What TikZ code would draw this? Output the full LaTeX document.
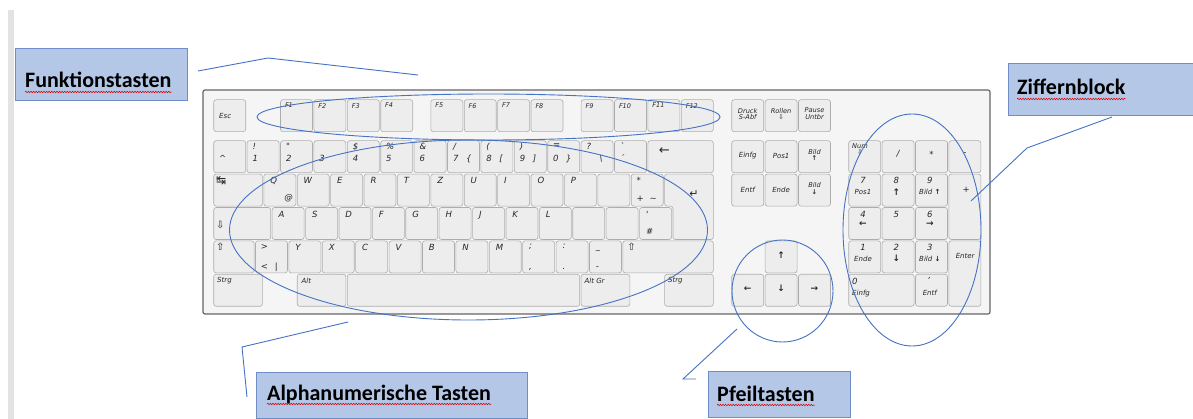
\documentclass[tikz,border=0pt]{standalone}
\usepackage{fontspec}
\usetikzlibrary{calc,decorations.pathmorphing,shapes.geometric}
\newfontfamily\kfont{DejaVu Sans}
\newfontfamily\lfont{Carlito}
\definecolor{ob}{HTML}{4472C4}
\definecolor{boxfill}{HTML}{B4C7E7}
\definecolor{boxline}{HTML}{6F8DC6}
\newcommand\uu{33.4}
\newcounter{kn}
\newcommand\keyt[3][]{\stepcounter{kn}\node[kt,#1] (kt\arabic{kn}) at (#2) {#3};}
\newcommand\K[5]{\begin{scope}[shift={(#1,#2)}]\path[keyst] (0.7,0.7) rectangle (#3-0.7,#4-0.7);#5\end{scope}}
\newcommand\NK[4]{\K{#1}{140}{\uu}{\uu}{\keyt{6,3}{#2}\keyt[anchor=base west]{6,22}{#3}\keyt[anchor=base west]{19,22}{#4}}}
\newcommand\NP[4]{\K{#1}{#2}{\uu}{\uu}{\keyt[anchor=north]{15,4}{#3}\keyt[ks,anchor=north]{15,16}{#4}}}
\newcommand\NA[4]{\K{#1}{#2}{\uu}{\uu}{\keyt[anchor=north]{15,4}{#3}\keyt[arr,anchor=north]{15,15}{#4}}}
\tikzset{
  keyst/.style={draw=black!32, fill=black!7, rounded corners=2.5pt, line width=0.6pt},
  kt/.style={font=\kfont\itshape\fontsize{8.5}{9}\selectfont, text=black!85, inner sep=0pt, anchor=north west},
  ks/.style={font=\kfont\itshape\fontsize{7}{7.5}\selectfont},
  ks2/.style={font=\kfont\itshape\fontsize{6.6}{6.8}\selectfont, align=center},
  kf/.style={font=\kfont\itshape\fontsize{6.5}{7}\selectfont},
  sym/.style={font=\kfont\fontsize{10}{10}\selectfont},
  arr/.style={font=\kfont\bfseries\fontsize{9}{9}\selectfont},
  ell/.style={ellipse, draw=ob, line width=0.9pt, inner sep=0pt},
  conn/.style={draw=ob, line width=0.9pt},
  lbox/.style={draw=boxline, fill=boxfill, line width=0.8pt, inner sep=0pt, anchor=north west},
  ltxt/.style={font=\lfont\bfseries\fontsize{22}{26}\selectfont, inner sep=0pt, anchor=base west},
  squig/.style={draw=red!85!black, line width=0.5pt, decorate, decoration={snake, amplitude=0.8pt, segment length=2.6pt}}
}
\begin{document}
\begin{tikzpicture}[x=1pt,y=-1pt]
\useasboundingbox (0,0) rectangle (1193,419);
\fill[white] (0,0) rectangle (1193,419);
\fill[black!11] (8,10) rectangle (14,419);
% keyboard body
\draw[fill=black!4, draw=black!60, line width=1.2pt, rounded corners=2pt] (203,90) rectangle (990,314);
% F row
\K{213}{99}{\uu}{\uu}{\keyt[ks,anchor=west]{6,17}{Esc}}
\foreach \l [count=\i from 0] in {F1,F2,F3,F4}{\K{279.8+\i*\uu}{99}{\uu}{\uu}{\keyt[kf]{5,4}{\l}}}
\foreach \l [count=\i from 0] in {F5,F6,F7,F8}{\K{430.1+\i*\uu}{99}{\uu}{\uu}{\keyt[kf]{5,4}{\l}}}
\foreach \l [count=\i from 0] in {F9,F10,F11,F12}{\K{580.4+\i*\uu}{99}{\uu}{\uu}{\keyt[kf]{5,4}{\l}}}
% number row
\NK{213}{}{\textasciicircum}{}
\NK{246.4}{!}{1}{}
\NK{279.8}{"}{2}{}
\NK{313.2}{}{3}{}
\NK{346.6}{\$}{4}{}
\NK{380}{\%}{5}{}
\NK{413.4}{\&}{6}{}
\NK{446.8}{/}{7}{\{}
\NK{480.2}{(}{8}{[}
\NK{513.6}{)}{9}{]}
\NK{547}{=}{0}{\}}
\NK{580.4}{?}{}{\textbackslash}
\NK{613.8}{`}{´}{}
\K{647.2}{140}{2*\uu}{\uu}{\keyt[font=\kfont\fontsize{13}{13}\selectfont,anchor=center]{17,11}{←}}
% row 2
\K{213}{173.4}{1.5*\uu}{\uu}{\keyt[font=\kfont\fontsize{12}{12}\selectfont]{3,3}{↹}}
\K{263.1}{173.4}{\uu}{\uu}{\keyt{7,4}{Q}\keyt[anchor=base west]{21,27}{@}}
\foreach \l [count=\i from 1] in {W,E,R,T,Z,U,I,O,P}{\K{263.1+\i*\uu}{173.4}{\uu}{\uu}{\keyt{7,4}{\l}}}
\K{597.1}{173.4}{\uu}{\uu}{}
\K{630.5}{173.4}{\uu}{\uu}{\keyt{6,4}{*}\keyt[anchor=base west]{6,28}{+}\keyt[anchor=base west]{19,28}{\textasciitilde}}
\begin{scope}[shift={(663.9,173.4)}]
\path[keyst] (0.7,0.7) -- (49.4,0.7) -- (49.4,66.1) -- (9.05,66.1) -- (9.05,32.7) -- (0.7,32.7) -- cycle;
\keyt[font=\kfont\fontsize{11}{11}\selectfont,anchor=center]{30,21}{↵}
\end{scope}
% row 3
\K{213}{206.8}{1.75*\uu}{\uu}{\keyt[sym,anchor=west]{3,18}{⇩}}
\foreach \l [count=\i from 0] in {A,S,D,F,G,H,J,K,L}{\K{271.45+\i*\uu}{206.8}{\uu}{\uu}{\keyt{7,4}{\l}}}
\K{572.05}{206.8}{\uu}{\uu}{}
\K{605.45}{206.8}{\uu}{\uu}{}
\K{638.85}{206.8}{\uu}{\uu}{\keyt{7,4}{'}\keyt[anchor=base west]{7,28}{\#}}
% row 4
\K{213}{240.2}{1.25*\uu}{\uu}{\keyt[sym]{3,3}{⇧}}
\K{254.75}{240.2}{\uu}{\uu}{\keyt{6,4}{>}\keyt[anchor=base west]{6,29}{<}\keyt[anchor=base west]{20,29}{|}}
\foreach \l [count=\i from 0] in {Y,X,C,V,B,N,M}{\K{288.15+\i*\uu}{240.2}{\uu}{\uu}{\keyt{7,4}{\l}}}
\K{521.95}{240.2}{\uu}{\uu}{\keyt{7,4}{;}\keyt[anchor=base west]{7,29}{,}}
\K{555.35}{240.2}{\uu}{\uu}{\keyt{7,4}{:}\keyt[anchor=base west]{7,29}{.}}
\K{588.75}{240.2}{\uu}{\uu}{\keyt[anchor=base west]{7,9}{\_}\keyt[anchor=base west]{7,29}{-}}
\K{622.15}{240.2}{2.75*\uu}{\uu}{\keyt[sym]{5,3}{⇧}}
% row 5
\K{213}{273.6}{1.5*\uu}{\uu}{\keyt[ks]{4,4}{Strg}}
\K{296.5}{273.6}{1.5*\uu}{\uu}{\keyt[ks]{5,4}{Alt}}
\K{346.6}{273.6}{7*\uu}{\uu}{}
\K{580.4}{273.6}{1.5*\uu}{\uu}{\keyt[ks]{4,4}{Alt Gr}}
\K{663.9}{273.6}{1.5*\uu}{\uu}{\keyt[ks]{4,4}{Strg}}
% navigation block
\K{731}{99}{\uu}{\uu}{\keyt[ks2,anchor=center]{16.7,15}{Druck\\S-Abf}}
\K{764.4}{99}{\uu}{\uu}{\keyt[ks2,anchor=center]{16.7,15}{Rollen\\⇩}}
\K{797.8}{99}{\uu}{\uu}{\keyt[ks2,anchor=center]{16.7,15}{Pause\\Untbr}}
\K{731}{140}{\uu}{\uu}{\keyt[ks,anchor=center]{16.7,16}{Einfg}}
\K{764.4}{140}{\uu}{\uu}{\keyt[ks,anchor=center]{16.7,16}{Pos1}}
\K{797.8}{140}{\uu}{\uu}{\keyt[ks2,anchor=center]{16.7,15}{Bild\\{\bfseries ↑}}}
\K{731}{173.4}{\uu}{\uu}{\keyt[ks,anchor=center]{16.7,16}{Entf}}
\K{764.4}{173.4}{\uu}{\uu}{\keyt[ks,anchor=center]{16.7,16}{Ende}}
\K{797.8}{173.4}{\uu}{\uu}{\keyt[ks2,anchor=center]{16.7,15}{Bild\\{\bfseries ↓}}}
% arrow keys
\K{764.4}{240.2}{\uu}{\uu}{\keyt[arr,anchor=center]{16.7,15}{↑}}
\K{731}{273.6}{\uu}{\uu}{\keyt[arr,anchor=center]{16.7,15}{←}}
\K{764.4}{273.6}{\uu}{\uu}{\keyt[arr,anchor=center]{16.7,15}{↓}}
\K{797.8}{273.6}{\uu}{\uu}{\keyt[arr,anchor=center]{16.7,15}{→}}
% numpad
\K{848}{140}{\uu}{\uu}{\keyt[ks2]{4,3}{Num\\⇩}}
\K{881.4}{140}{\uu}{\uu}{\keyt[anchor=center]{16.7,14}{/}}
\K{914.8}{140}{\uu}{\uu}{\keyt[anchor=center]{16.7,14}{*}}
\K{948.2}{140}{\uu}{\uu}{\keyt[anchor=center]{16.7,14}{-}}
\NP{848}{173.4}{7}{Pos1}
\NA{881.4}{173.4}{8}{↑}
\NP{914.8}{173.4}{9}{Bild {\bfseries ↑}}
\K{948.2}{173.4}{\uu}{2*\uu}{\keyt[anchor=center]{18,16}{+}}
\NA{848}{206.8}{4}{←}
\NP{881.4}{206.8}{5}{}
\NA{914.8}{206.8}{6}{→}
\NP{848}{240.2}{1}{Ende}
\NA{881.4}{240.2}{2}{↓}
\NP{914.8}{240.2}{3}{Bild {\bfseries ↓}}
\K{948.2}{240.2}{\uu}{2*\uu}{\keyt[ks,anchor=center]{17,16}{Enter}}
\K{848}{273.6}{2*\uu}{\uu}{\keyt{4,4}{0}\keyt[ks]{4,16}{Einfg}}
\NP{914.8}{273.6}{,}{Entf}
% ellipses
\node[ell, minimum width=463pt, minimum height=46pt] (eF) at (488.5,117) {};
\node[ell, minimum width=478pt, minimum height=180pt] (eA) at (468.5,230) {};
\node[ell, minimum width=101pt, minimum height=102pt] (eP) at (782.5,291) {};
\node[ell, minimum width=138pt, minimum height=232pt] (eZ) at (912,230) {};
% label boxes
\node[lbox, minimum width=172pt, minimum height=52pt] (bF) at (15,48) {};
\node[lbox, minimum width=190pt, minimum height=52pt] (bZ) at (1008,63) {};
\node[lbox, minimum width=271pt, minimum height=46pt] (bA) at (256,372) {};
\node[lbox, minimum width=142pt, minimum height=46pt] (bP) at (708,371) {};
\node[ltxt] (tF) at (25,88) {Funktionstasten};
\node[ltxt] (tZ) at (1017,95) {Ziffernblock};
\node[ltxt] (tA) at (267,400) {Alphanumerische Tasten};
\node[ltxt] (tP) at (717,401) {Pfeiltasten};
\foreach \t in {tF,tZ,tA,tP}{\draw[squig] ($(\t.base west)+(0,4)$) -- ($(\t.base east)+(0,4)$);}
% connector lines
\coordinate (f1) at (198,71); \coordinate (f2) at (268,58); \coordinate (f3) at (418,75);
\draw[conn] (f1) -- (f2) -- (f3);
\coordinate (z1) at (1112,117); \coordinate (z2) at (1027,148); \coordinate (z3) at (971,201);
\draw[conn] (z1) -- (z2) -- (z3);
\coordinate (a1) at (348,322); \coordinate (a2) at (242,347); \coordinate (a3) at (247,397);
\draw[conn] (a1) -- (a2) -- (a3);
\coordinate (p1) at (737,329); \coordinate (p2) at (683,379); \coordinate (p3) at (696,379);
\draw[conn] (p1) -- (p2) -- (p3);
\end{tikzpicture}
\end{document}
